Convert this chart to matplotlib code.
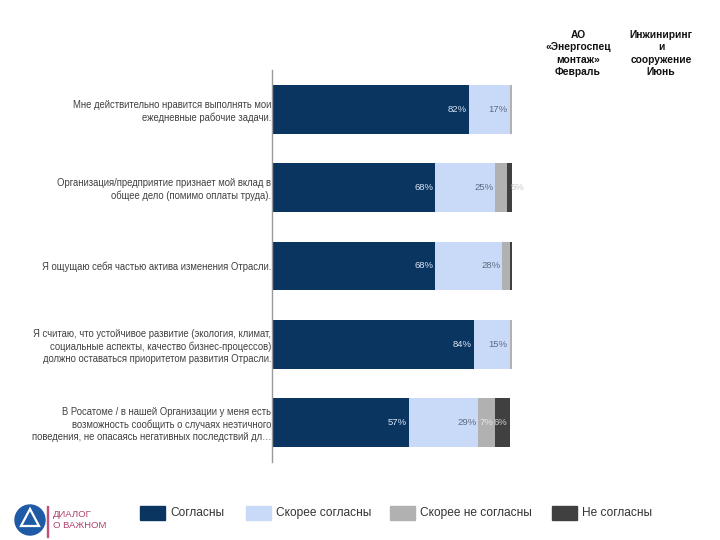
import matplotlib
matplotlib.use("Agg")
import matplotlib.pyplot as plt
from matplotlib.patches import Rectangle, Ellipse, Polygon
import numpy as np

plt.rcParams['font.family'] = ['Liberation Sans', 'DejaVu Sans']

categories = [
    "Мне действительно нравится выполнять мои\nежедневные рабочие задачи.",
    "Организация/предприятие признает мой вклад в\nобщее дело (помимо оплаты труда).",
    "Я ощущаю себя частью актива изменения Отрасли.",
    "Я считаю, что устойчивое развитие (экология, климат,\nсоциальные аспекты, качество бизнес-процессов)\nдолжно оставаться приоритетом развития Отрасли.",
    "В Росатоме / в нашей Организации у меня есть\nвозможность сообщить о случаях неэтичного\nповедения, не опасаясь негативных последствий дл…",
]
series_names = ["Согласны", "Скорее согласны", "Скорее не согласны", "Не согласны"]
agree = [82, 68, 68, 84, 57]
rather_agree = [17, 25, 28, 15, 29]
rather_disagree = [1, 5, 3, 1, 7]
disagree = [0, 2, 1, 0, 6]
header_1 = "АО\n«Энергоспец\nмонтаж»\nФевраль"
header_2 = "Инжиниринг\nи\nсооружение\nИюнь"

colors = ["#0b3561", "#c9daf8", "#b1b1b1", "#404040"]
label_colors = ["#dbe6f7", "#5b6b80", "#e6e6e6", "#d0d0d0"]

fig = plt.figure(figsize=(7.2, 5.4), dpi=100)
ax = fig.add_axes([272/720, 1-462/540, 240/720, 392/540])
ax.set_xlim(0, 100)
ax.set_ylim(4.5, -0.5)

y = np.arange(len(categories))
data = [agree, rather_agree, rather_disagree, disagree]
left = np.zeros(len(categories))
for si, vals in enumerate(data):
    vals = np.array(vals, dtype=float)
    ax.barh(y, vals, left=left, height=0.62, color=colors[si], edgecolor='none', zorder=2)
    for i, v in enumerate(vals):
        if v >= 5:
            end = left[i] + v
            if si == 2 and i == 1:
                ax.text(105, y[i], f"{int(v)}%", ha='right', va='center',
                        fontsize=6.8, color="#c8c8c8", clip_on=False)
            else:
                ax.text(end - 0.8, y[i], f"{int(v)}%", ha='right', va='center',
                        fontsize=6.8, color=label_colors[si], zorder=3)
    left = left + vals

for s in ['top', 'right', 'bottom']:
    ax.spines[s].set_visible(False)
ax.spines['left'].set_color('#9a9a9a')
ax.spines['left'].set_linewidth(1.0)
ax.set_xticks([])
ax.set_yticks(y)
ax.set_yticklabels(categories, fontsize=6.85, color='#404040', linespacing=1.27)
ax.tick_params(axis='y', length=0, pad=0.5)

# headers
fig.text(578/720, 1-30/540, header_1, ha='center', va='top', fontsize=7.4,
         fontweight='bold', color='#111111', linespacing=1.3)
fig.text(661/720, 1-30/540, header_2, ha='center', va='top', fontsize=7.4,
         fontweight='bold', color='#111111', linespacing=1.3)

# legend
leg_patch_x = [140, 246, 390, 552]
leg_y = 513
for x0, name, c in zip(leg_patch_x, series_names, colors):
    fig.patches.append(Rectangle((x0/720, 1-(leg_y+7)/540), 25/720, 14/540,
                                 transform=fig.transFigure, color=c))
    fig.text((x0+30)/720, 1-leg_y/540, name, ha='left', va='center',
             fontsize=8.6, color='#333333')

# logo
fig.patches.append(Ellipse((30/720, 1-520/540), 30/720, 30/540, transform=fig.transFigure,
                           color='#1f5aa6'))
fig.patches.append(Polygon([(30/720, 1-509/540), (21/720, 1-526/540), (39/720, 1-526/540)],
                           closed=True, transform=fig.transFigure, fill=False,
                           edgecolor='white', linewidth=1.6))
fig.patches.append(Rectangle((47/720, 1-537/540), 1/720, 31/540,
                             transform=fig.transFigure, color='#c0507a'))
fig.text(53/720, 1-520/540, "ДИАЛОГ\nО ВАЖНОМ", ha='left', va='center',
         fontsize=6.8, color='#b0406e', linespacing=1.25)

fig.savefig("out.png", dpi=100)
